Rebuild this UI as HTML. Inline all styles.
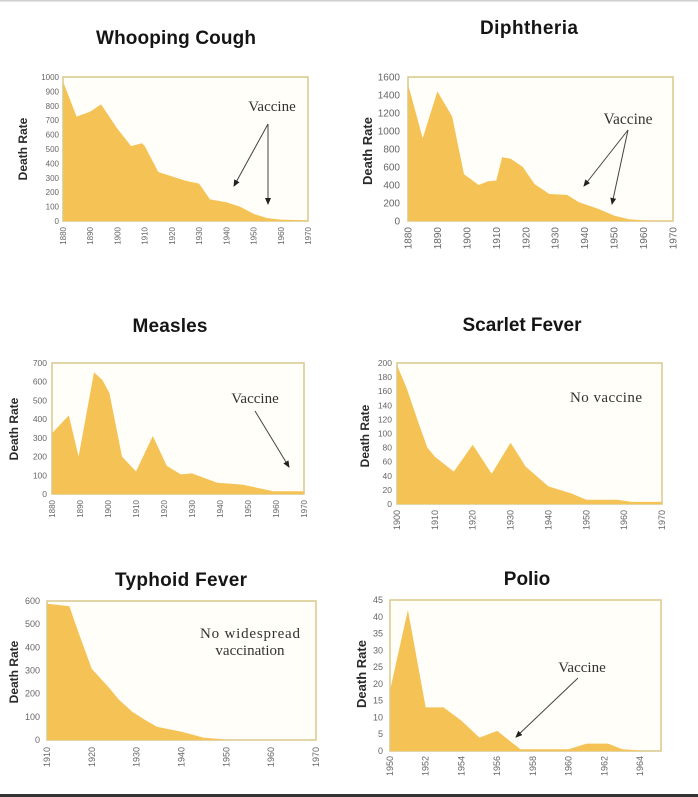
<!DOCTYPE html>
<html><head><meta charset="utf-8"><style>
html,body{margin:0;padding:0;background:#fff;}
svg{display:block;}
.t{font-family:"Liberation Sans",Arial,sans-serif;font-weight:bold;font-size:19px;fill:#151515;text-anchor:middle;}
.dr{font-family:"Liberation Sans",Arial,sans-serif;font-weight:bold;font-size:12px;fill:#2a2a2a;text-anchor:middle;}
.yl{font-family:"Liberation Sans",Arial,sans-serif;fill:#666;text-anchor:end;}
.xl{font-family:"Liberation Sans",Arial,sans-serif;fill:#666;text-anchor:end;}
.an{font-family:"Liberation Serif","Times New Roman",serif;font-size:15px;fill:#333;text-anchor:middle;}
.box{fill:#fffef8;stroke:#d8c98c;stroke-width:1.5;}
.ar{fill:#f5c256;}
.arr{stroke:#444;stroke-width:1;fill:none;}
</style></head><body>
<svg width="698" height="797" viewBox="0 0 698 797" xmlns="http://www.w3.org/2000/svg">
<defs>
<marker id="ah" markerWidth="8" markerHeight="8" refX="6" refY="3" orient="auto" markerUnits="userSpaceOnUse">
<path d="M0,0 L7,3 L0,6 Z" fill="#222"/>
</marker>
</defs>
<rect x="0" y="0" width="698" height="1.5" fill="#cfcfcf"/>
<rect x="0" y="794" width="698" height="3" fill="#333"/>

<!-- Whooping Cough -->
<text class="t" x="176" y="44" textLength="160">Whooping Cough</text>
<rect class="box" x="63" y="77" width="245" height="144"/>
<polygon class="ar" points="63.5,221 63.5,82.8 76.6,116.6 90.2,111.6 101.1,104.4 117.4,128.8 131.1,146.1 141.9,143.2 144.7,146 158.3,172 171.9,176.4 185.5,180.7 199.1,183.6 210,199.4 226.3,202.3 239.9,206.6 253.5,213.8 267.1,218.1 280.8,219.6 307.5,220.4 307.5,221"/>
<g class="yl" style="font-size:8px">
<text x="59" y="224">0</text><text x="59" y="209.6">100</text><text x="59" y="195.2">200</text><text x="59" y="180.8">300</text><text x="59" y="166.4">400</text><text x="59" y="152">500</text><text x="59" y="137.6">600</text><text x="59" y="123.2">700</text><text x="59" y="108.8">800</text><text x="59" y="94.4">900</text><text x="59" y="80">1000</text>
</g>
<g class="xl" style="font-size:8px">
<text transform="translate(66,227) rotate(-90)">1880</text><text transform="translate(93.2,227) rotate(-90)">1890</text><text transform="translate(120.4,227) rotate(-90)">1900</text><text transform="translate(147.7,227) rotate(-90)">1910</text><text transform="translate(174.9,227) rotate(-90)">1920</text><text transform="translate(202.1,227) rotate(-90)">1930</text><text transform="translate(229.3,227) rotate(-90)">1940</text><text transform="translate(256.5,227) rotate(-90)">1950</text><text transform="translate(283.8,227) rotate(-90)">1960</text><text transform="translate(311,227) rotate(-90)">1970</text>
</g>
<text class="dr" transform="translate(27,149) rotate(-90)">Death Rate</text>
<text class="an" x="272" y="111">Vaccine</text>
<line class="arr" x1="268" y1="124" x2="234" y2="186" marker-end="url(#ah)"/>
<line class="arr" x1="268" y1="124" x2="268" y2="204" marker-end="url(#ah)"/>

<!-- Diphtheria -->
<text class="t" x="529" y="34" textLength="98">Diphtheria</text>
<rect class="box" x="408" y="77" width="265" height="144"/>
<polygon class="ar" points="408.5,221 408.5,86 422.7,138.2 437.4,91.4 452.2,116.6 464,174.2 478.7,185 487.5,181.4 496.3,180.5 502.2,157.1 511,158.9 522.8,167 534.6,184.1 549.3,194 567,194.9 578.8,202.1 599.4,209.3 614.1,215.6 628.8,219.2 646.5,220.6 672.5,220.6 672.5,221"/>
<g class="yl" style="font-size:10px">
<text x="400" y="224.5">0</text><text x="400" y="206.5">200</text><text x="400" y="188.5">400</text><text x="400" y="170.5">600</text><text x="400" y="152.5">800</text><text x="400" y="134.5">1000</text><text x="400" y="116.5">1200</text><text x="400" y="98.5">1400</text><text x="400" y="80.5">1600</text>
</g>
<g class="xl" style="font-size:10px">
<text transform="translate(411.5,227) rotate(-90)">1880</text><text transform="translate(440.9,227) rotate(-90)">1890</text><text transform="translate(470.4,227) rotate(-90)">1900</text><text transform="translate(499.8,227) rotate(-90)">1910</text><text transform="translate(529.3,227) rotate(-90)">1920</text><text transform="translate(558.7,227) rotate(-90)">1930</text><text transform="translate(588.2,227) rotate(-90)">1940</text><text transform="translate(617.6,227) rotate(-90)">1950</text><text transform="translate(647.1,227) rotate(-90)">1960</text><text transform="translate(676.5,227) rotate(-90)">1970</text>
</g>
<text class="dr" style="font-size:13px" transform="translate(372,151) rotate(-90)">Death Rate</text>
<text class="an" x="628" y="124" style="font-size:15.5px">Vaccine</text>
<line class="arr" x1="628" y1="130" x2="584" y2="186" marker-end="url(#ah)"/>
<line class="arr" x1="628" y1="130" x2="612" y2="204" marker-end="url(#ah)"/>

<!-- Measles -->
<text class="t" x="170" y="332" textLength="75">Measles</text>
<rect class="box" x="52" y="363" width="252" height="131"/>
<polygon class="ar" points="52.5,494 52.5,432.8 68.8,415.4 78.6,456.6 94,372.4 102.4,380 109.4,393 122,456.6 136,471.5 152.8,436 166.8,465.9 180.8,474.4 192,473.4 217.2,482.8 242.4,484.6 273.2,491.2 303.5,491.2 303.5,494"/>
<g class="yl" style="font-size:8.5px">
<text x="47" y="497">0</text><text x="47" y="478.3">100</text><text x="47" y="459.6">200</text><text x="47" y="440.9">300</text><text x="47" y="422.2">400</text><text x="47" y="403.5">500</text><text x="47" y="384.7">600</text><text x="47" y="366">700</text>
</g>
<g class="xl" style="font-size:8px">
<text transform="translate(55,500) rotate(-90)">1880</text><text transform="translate(83,500) rotate(-90)">1890</text><text transform="translate(111,500) rotate(-90)">1900</text><text transform="translate(139,500) rotate(-90)">1910</text><text transform="translate(167,500) rotate(-90)">1920</text><text transform="translate(195,500) rotate(-90)">1930</text><text transform="translate(223,500) rotate(-90)">1940</text><text transform="translate(251,500) rotate(-90)">1950</text><text transform="translate(279,500) rotate(-90)">1960</text><text transform="translate(307,500) rotate(-90)">1970</text>
</g>
<text class="dr" transform="translate(18,429) rotate(-90)">Death Rate</text>
<text class="an" x="255" y="403">Vaccine</text>
<line class="arr" x1="255" y1="411" x2="289" y2="467" marker-end="url(#ah)"/>

<!-- Scarlet Fever -->
<text class="t" x="522" y="331" textLength="119">Scarlet Fever</text>
<rect class="box" x="397" y="363" width="265" height="141"/>
<polygon class="ar" points="397.5,504 397.5,366.5 406.5,387.7 419.7,426.4 427.4,447.6 434.9,456.8 453.8,471.6 472.7,444.8 491.7,473.7 510.6,442.7 525.7,466.6 548.4,486.4 571.2,493.4 586.3,499.8 616.6,499.8 631.7,501.9 661.5,501.9 661.5,504"/>
<g class="yl" style="font-size:8.5px">
<text x="392" y="507">0</text><text x="392" y="492.9">20</text><text x="392" y="478.8">40</text><text x="392" y="464.7">60</text><text x="392" y="450.6">80</text><text x="392" y="436.5">100</text><text x="392" y="422.4">120</text><text x="392" y="408.3">140</text><text x="392" y="394.2">160</text><text x="392" y="380.1">180</text><text x="392" y="366">200</text>
</g>
<g class="xl" style="font-size:9px">
<text transform="translate(400,510) rotate(-90)">1900</text><text transform="translate(437.9,510) rotate(-90)">1910</text><text transform="translate(475.7,510) rotate(-90)">1920</text><text transform="translate(513.6,510) rotate(-90)">1930</text><text transform="translate(551.4,510) rotate(-90)">1940</text><text transform="translate(589.3,510) rotate(-90)">1950</text><text transform="translate(627.1,510) rotate(-90)">1960</text><text transform="translate(665,510) rotate(-90)">1970</text>
</g>
<text class="dr" transform="translate(369,436) rotate(-90)">Death Rate</text>
<text class="an" x="606" y="402" textLength="72">No vaccine</text>

<!-- Typhoid Fever -->
<text class="t" x="181" y="586" textLength="132">Typhoid Fever</text>
<rect class="box" x="47" y="601" width="269" height="139"/>
<polygon class="ar" points="47.5,740 47.5,603.8 69.4,606.3 78.4,632.3 91.8,668.9 109.8,688.6 118.7,699.5 132.2,711.7 145.6,720.3 156.8,726.8 181.5,731.7 203.9,737.7 226.3,739.5 226.3,740"/>
<g class="yl" style="font-size:9px">
<text x="40" y="743">0</text><text x="40" y="719.8">100</text><text x="40" y="696.7">200</text><text x="40" y="673.5">300</text><text x="40" y="650.3">400</text><text x="40" y="627.2">500</text><text x="40" y="604">600</text>
</g>
<g class="xl" style="font-size:9px">
<text transform="translate(50,747) rotate(-90)">1910</text><text transform="translate(94.8,747) rotate(-90)">1920</text><text transform="translate(139.7,747) rotate(-90)">1930</text><text transform="translate(184.5,747) rotate(-90)">1940</text><text transform="translate(229.3,747) rotate(-90)">1950</text><text transform="translate(274.2,747) rotate(-90)">1960</text><text transform="translate(319,747) rotate(-90)">1970</text>
</g>
<text class="dr" transform="translate(18,672) rotate(-90)">Death Rate</text>
<text class="an" x="250" y="638" textLength="100">No widespread</text>
<text class="an" x="250" y="655">vaccination</text>

<!-- Polio -->
<text class="t" x="527" y="585">Polio</text>
<rect class="box" x="390" y="600" width="271" height="151"/>
<polygon class="ar" points="390.5,751 390.5,688.2 407.9,610 425.7,707.4 443.6,707.4 461.5,720.8 479.4,737.6 497.2,730.9 520.4,749.3 568.7,749.3 586.6,743.6 608,743.6 622.3,749.3 640.2,750.5 640.2,751"/>
<g class="yl" style="font-size:9px">
<text x="383" y="754">0</text><text x="383" y="737.2">5</text><text x="383" y="720.4">10</text><text x="383" y="703.7">15</text><text x="383" y="686.9">20</text><text x="383" y="670.1">25</text><text x="383" y="653.3">30</text><text x="383" y="636.5">35</text><text x="383" y="619.8">40</text><text x="383" y="603">45</text>
</g>
<g class="xl" style="font-size:9px">
<text transform="translate(393,756) rotate(-90)">1950</text><text transform="translate(428.7,756) rotate(-90)">1952</text><text transform="translate(464.5,756) rotate(-90)">1954</text><text transform="translate(500.2,756) rotate(-90)">1956</text><text transform="translate(536,756) rotate(-90)">1958</text><text transform="translate(571.7,756) rotate(-90)">1960</text><text transform="translate(607.4,756) rotate(-90)">1962</text><text transform="translate(643.2,756) rotate(-90)">1964</text>
</g>
<text class="dr" style="font-size:13px" transform="translate(366,674) rotate(-90)">Death Rate</text>
<text class="an" x="582" y="672">Vaccine</text>
<line class="arr" x1="578" y1="678" x2="516" y2="737" marker-end="url(#ah)"/>
</svg>
</body></html>
